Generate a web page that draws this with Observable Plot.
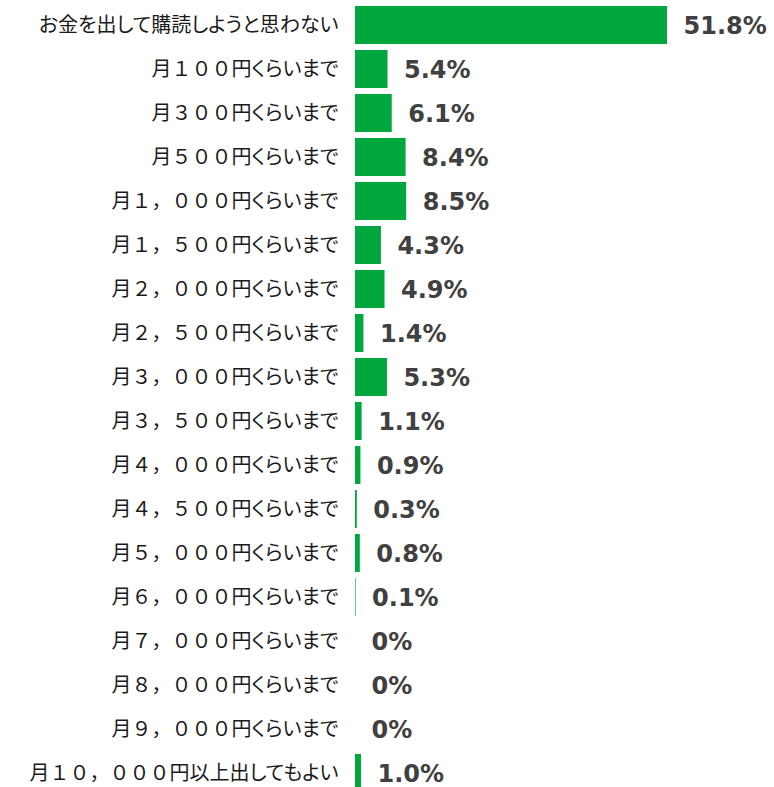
<!DOCTYPE html>
<html>
<head>
<meta charset="utf-8">
<script src="https://cdn.jsdelivr.net/npm/d3@7"></script>
<script src="https://cdn.jsdelivr.net/npm/@observablehq/plot@0.6"></script>
<style>
  html, body { margin: 0; padding: 0; background: #fff; }
  #chart svg { display: block; }
  tspan.kana { font-feature-settings: "palt"; }
</style>
</head>
<body>
<div id="chart"></div>
<script>
const categories = [
  "お金を出して購読しようと思わない",
  "月１００円くらいまで",
  "月３００円くらいまで",
  "月５００円くらいまで",
  "月１，０００円くらいまで",
  "月１，５００円くらいまで",
  "月２，０００円くらいまで",
  "月２，５００円くらいまで",
  "月３，０００円くらいまで",
  "月３，５００円くらいまで",
  "月４，０００円くらいまで",
  "月４，５００円くらいまで",
  "月５，０００円くらいまで",
  "月６，０００円くらいまで",
  "月７，０００円くらいまで",
  "月８，０００円くらいまで",
  "月９，０００円くらいまで",
  "月１０，０００円以上出してもよい"
];
const values = [51.8, 5.4, 6.1, 8.4, 8.5, 4.3, 4.9, 1.4, 5.3, 1.1, 0.9, 0.3, 0.8, 0.1, 0, 0, 0, 1.0];

const data = categories.map((c, i) => ({category: c, value: values[i]}));
const fmt = v => v === 0 ? "0%" : v.toFixed(1) + "%";

const chart = Plot.plot({
  width: 774,
  height: 787,
  marginLeft: 355,
  marginRight: 107,
  marginTop: 0,
  marginBottom: 0,
  x: {domain: [0, 51.8], axis: null},
  y: {domain: categories, range: [3, 795], paddingInner: 0.14, paddingOuter: 0.07, axis: null},
  style: {fontFamily: "'Noto Sans CJK JP', sans-serif"},
  marks: [
    Plot.barX(data, {x: "value", y: "category", fill: "#00a73c"}),
    Plot.axisY({
      tickSize: 0,
      tickPadding: 17,
      fontSize: 20,
      label: null,
      fill: "#1a1a1a",
      fontFamily: "'Noto Sans CJK JP', sans-serif"
    }),
    Plot.text(data, {
      x: "value",
      y: "category",
      text: d => fmt(d.value),
      dx: 16,
      dy: 1,
      textAnchor: "start",
      fontSize: 24,
      fontWeight: "bold",
      fontFamily: "'DejaVu Sans', sans-serif",
      fill: "#404040"
    })
  ]
});
// proportional kana (as in the original's UI font), full-width digits kept
d3.select(chart).selectAll('g[aria-label="y-axis tick label"] text').each(function() {
  const t = this.textContent;
  const runs = t.match(/[\u3040-\u30ff]+|[^\u3040-\u30ff]+/g) || [];
  this.textContent = "";
  for (const r of runs) {
    const ts = document.createElementNS("http://www.w3.org/2000/svg", "tspan");
    ts.textContent = r;
    if (/[\u3040-\u30ff]/.test(r)) ts.setAttribute("class", "kana");
    this.appendChild(ts);
  }
});
document.getElementById("chart").appendChild(chart);
</script>
</body>
</html>
